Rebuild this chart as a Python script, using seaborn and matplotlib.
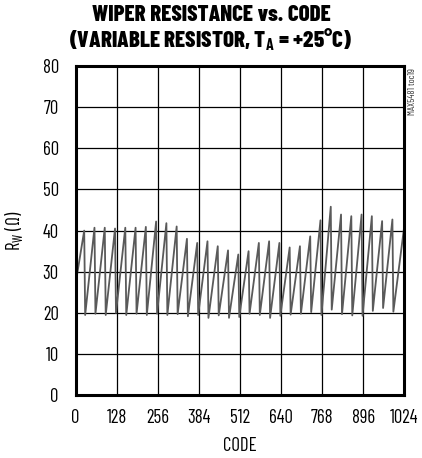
import numpy as np
import pandas as pd
import matplotlib
matplotlib.use("Agg")
import matplotlib.pyplot as plt
from matplotlib import font_manager
import seaborn as sns

# Data: one rising ramp per 32-code segment
CYCLE = 32
START_CODE = 0
START_VALUE = 27.0
PEAK_OFFSET = 27      # code within each segment where the ramp tops out
TROUGH_OFFSET = 30    # code within each segment where it has dropped back
peaks = [40.0, 40.7, 40.7, 40.5, 40.7, 40.7, 40.9, 42.2,
         41.8, 41.0, 38.0, 37.0, 37.4, 36.2, 35.2, 34.2,
         35.0, 37.0, 37.4, 37.0, 35.9, 36.2, 38.6, 42.5,
         45.8, 43.9, 43.5, 43.9, 43.5, 42.3, 42.7]
troughs = [19.5, 19.8, 19.5, 20.0, 19.5, 19.8, 19.5, 19.8,
           19.5, 19.7, 19.2, 19.5, 18.8, 19.4, 18.8, 19.0,
           19.8, 19.5, 18.8, 19.3, 19.6, 19.8, 20.2, 19.5,
           20.8, 19.7, 19.4, 19.3, 20.5, 21.2, 20.3]
END_CODE = 1023
END_VALUE = 40.5

x_ticks = [0, 128, 256, 384, 512, 640, 768, 896, 1024]
y_ticks = [0, 10, 20, 30, 40, 50, 60, 70, 80]

sns.set_theme(style="white")

# narrow face, like the datasheet's condensed Helvetica
names = {f.name for f in font_manager.fontManager.ttflist}
base = 'Liberation Sans'
for cand in ['Barlow Condensed', 'Asap Condensed', 'Archivo Narrow']:
    if cand in names:
        base = cand
        break
plt.rcParams['font.family'] = [base, 'DejaVu Sans']
plt.rcParams['mathtext.fontset'] = 'custom'
plt.rcParams['mathtext.rm'] = base
plt.rcParams['mathtext.bf'] = base + ':bold'

# build the point list: start, then peak / trough of every segment
codes = [START_CODE]
values = [START_VALUE]
for k, (hi, lo) in enumerate(zip(peaks, troughs)):
    codes += [k * CYCLE + PEAK_OFFSET, k * CYCLE + TROUGH_OFFSET]
    values += [hi, lo]
codes.append(END_CODE)
values.append(END_VALUE)
df = pd.DataFrame({'CODE': codes, 'RW': values})

fig = plt.figure(figsize=(4.22, 4.58), dpi=100)
ax = fig.add_axes([0.179, 0.137, 0.779, 0.719])

sns.lineplot(data=df, x='CODE', y='RW', ax=ax, color='#5a5a5a',
             linewidth=1.3, estimator=None, sort=False)

ax.set_xlim(0, 1024)
ax.set_ylim(0, 80)
ax.set_xticks(x_ticks)
ax.set_yticks(y_ticks)
ax.grid(True, color='black', linewidth=0.9)
ax.tick_params(axis='both', length=0, labelsize=13.5, colors='black')
ax.tick_params(axis='x', pad=10)
ax.tick_params(axis='y', pad=12)
for s in ax.spines.values():
    s.set_color('black')
    s.set_linewidth(2.2)

ax.set_xlabel('CODE', fontsize=13.5, color='black', labelpad=7)
ax.set_ylabel(r'R$_{\mathrm{W}}$ ($\Omega$)', fontsize=13.5, color='black', labelpad=12)

fig.text(0.5, 0.988, 'WIPER RESISTANCE vs. CODE', ha='center', va='top',
         fontsize=16.5, fontweight=800, color='black')
fig.text(0.5, 0.944, r'(VARIABLE RESISTOR, T$_{\mathbf{A}}$ = +25°C)', ha='center',
         va='top', fontsize=16.5, fontweight=800, color='black')
fig.text(0.977, 0.80, 'MAX5481 toc19', rotation=90, ha='center', va='center',
         fontsize=7, color='#333333')

fig.savefig('out.png', dpi=100)
